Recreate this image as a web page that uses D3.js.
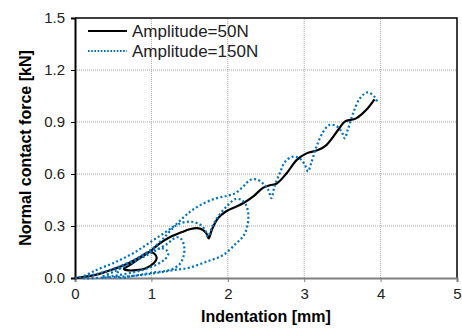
<!DOCTYPE html>
<html>
<head>
<meta charset="utf-8">
<script src="https://cdn.jsdelivr.net/npm/d3@7.9.0/dist/d3.min.js"></script>
<style>
  body { margin: 0; background: #fff; }
  svg { display: block; font-family: 'Liberation Sans', Arial, sans-serif; }
</style>
</head>
<body>
<svg id="chart" width="462" height="329"></svg>
<script>
// Amplitude=50N (solid black)
const amp50X = [0, 0.1, 0.2, 0.34, 0.5, 0.7, 0.85, 0.97, 1.04, 1.07, 1.03, 0.92, 0.8, 0.68, 0.64, 0.7, 0.85, 1.0, 1.11, 1.24, 1.4, 1.5, 1.6, 1.67, 1.72, 1.75, 1.79, 1.87, 1.98, 2.1, 2.2, 2.33, 2.46, 2.55, 2.64, 2.77, 2.9, 3.03, 3.18, 3.29, 3.46, 3.53, 3.68, 3.81, 3.92];
const amp50Y = [0, 0.005, 0.012, 0.027, 0.05, 0.085, 0.12, 0.15, 0.14, 0.115, 0.085, 0.055, 0.045, 0.045, 0.053, 0.07, 0.115, 0.16, 0.2, 0.235, 0.265, 0.281, 0.288, 0.278, 0.258, 0.229, 0.277, 0.344, 0.385, 0.41, 0.431, 0.469, 0.52, 0.535, 0.545, 0.604, 0.68, 0.719, 0.738, 0.767, 0.864, 0.902, 0.921, 0.969, 1.031];

// Amplitude=150N (dotted blue)
const amp150X = [0, 0.3, 0.6, 0.85, 1.05, 1.15, 1.21, 1.22, 1.17, 1.08, 0.9, 0.7, 0.5, 0.35,
  0.5, 0.75, 1.0, 1.2, 1.33, 1.39, 1.43, 1.42, 1.37, 1.25, 1.0, 0.8, 0.55,
  0.6, 0.8, 1.0, 1.15, 1.33, 1.5, 1.63, 1.7, 1.74,
  1.8, 1.9, 2.0, 2.1, 2.18, 2.24, 2.27, 2.25, 2.2, 2.11, 1.94, 1.72, 1.5, 1.285, 1.0, 0.7, 0.4, 0.1,
  0.25, 0.51, 0.77, 1.03, 1.29, 1.5, 1.68, 1.85, 2.0, 2.1, 2.2, 2.29, 2.375, 2.46, 2.53, 2.57, 2.61, 2.68, 2.75, 2.85, 2.94, 3.01, 3.05, 3.09, 3.16, 3.25, 3.33, 3.42, 3.49, 3.53, 3.57, 3.64, 3.73, 3.83, 3.92, 3.96];
const amp150Y = [0, 0.025, 0.07, 0.12, 0.165, 0.17, 0.155, 0.135, 0.105, 0.08, 0.048, 0.027, 0.012, 0.005,
  0.035, 0.09, 0.145, 0.195, 0.235, 0.225, 0.18, 0.125, 0.08, 0.048, 0.03, 0.015, 0.005,
  0.06, 0.11, 0.165, 0.225, 0.305, 0.325, 0.31, 0.28, 0.238,
  0.3, 0.37, 0.42, 0.455, 0.45, 0.42, 0.36, 0.29, 0.24, 0.2, 0.133, 0.094, 0.06, 0.045, 0.025, 0.01, 0.003, 0.002,
  0.04, 0.088, 0.145, 0.22, 0.298, 0.38, 0.43, 0.46, 0.475, 0.49, 0.527, 0.565, 0.569, 0.546, 0.508, 0.46, 0.527, 0.604, 0.671, 0.70, 0.69, 0.652, 0.615, 0.66, 0.757, 0.844, 0.883, 0.877, 0.844, 0.806, 0.854, 0.95, 1.037, 1.071, 1.046, 1.011];

const xTicks = [0, 1, 2, 3, 4, 5];
const yTicks = [0, 0.3, 0.6, 0.9, 1.2, 1.5];
const seriesNames = ['Amplitude=50N', 'Amplitude=150N'];

const margin = { left: 75, right: 5, top: 18, bottom: 51 };
const width = 462, height = 329;

const svg = d3.select('#chart');
const x = d3.scaleLinear().domain([0, 5]).range([margin.left, width - margin.right]);
const y = d3.scaleLinear().domain([0, 1.5]).range([height - margin.bottom, margin.top]);

// gridlines
svg.append('g')
  .selectAll('line.gy')
  .data(yTicks.slice(1, -1))
  .join('line')
  .attr('x1', x(0)).attr('x2', x(5))
  .attr('y1', (d) => y(d)).attr('y2', (d) => y(d))
  .attr('stroke', '#a6a6a6').attr('stroke-width', 1).attr('stroke-dasharray', '1 1');

svg.append('g')
  .selectAll('line.gx')
  .data(xTicks.slice(1, -1))
  .join('line')
  .attr('y1', y(0)).attr('y2', y(1.5))
  .attr('x1', (d) => x(d)).attr('x2', (d) => x(d))
  .attr('stroke', '#a6a6a6').attr('stroke-width', 1).attr('stroke-dasharray', '1 1');

// frame (top, right)
svg.append('path')
  .attr('d', `M${x(0)},${y(1.5)}H${x(5)}V${y(0)}`)
  .attr('fill', 'none').attr('stroke', '#000').attr('stroke-width', 1.5);

// axes
const xAxis = svg.append('g')
  .attr('transform', `translate(0,${y(0)})`)
  .call(d3.axisBottom(x).tickValues(xTicks).tickFormat(d3.format('d')).tickSize(4).tickPadding(6));
xAxis.select('.domain').attr('stroke', '#7f7f7f').attr('stroke-width', 2);
xAxis.selectAll('.tick line').attr('stroke', '#7f7f7f');
xAxis.selectAll('text').attr('font-size', 15).attr('fill', '#222').attr('font-family', "'Liberation Sans', Arial, sans-serif");

const yAxis = svg.append('g')
  .attr('transform', `translate(${x(0)},0)`)
  .call(d3.axisLeft(y).tickValues(yTicks).tickFormat(d3.format('.1f')).tickSize(4).tickPadding(6));
yAxis.select('.domain').attr('stroke', '#000').attr('stroke-width', 2);
yAxis.selectAll('.tick line').attr('stroke', '#000');
yAxis.selectAll('text').attr('font-size', 15).attr('fill', '#222').attr('font-family', "'Liberation Sans', Arial, sans-serif");

// axis titles
svg.append('text')
  .attr('x', (x(0) + x(5)) / 2).attr('y', 322)
  .attr('text-anchor', 'middle').attr('font-size', 16).attr('font-weight', 'bold')
  .text('Indentation [mm]');

svg.append('text')
  .attr('transform', `translate(31,${(y(0) + y(1.5)) / 2}) rotate(-90)`)
  .attr('text-anchor', 'middle').attr('font-size', 16).attr('font-weight', 'bold')
  .text('Normal contact force [kN]');

// series
const line = d3.line()
  .x((d) => x(d[0]))
  .y((d) => y(d[1]))
  .curve(d3.curveCatmullRom.alpha(0.5));

const data50 = amp50X.map((v, i) => [v, amp50Y[i]]);
const data150 = amp150X.map((v, i) => [v, amp150Y[i]]);

svg.append('path')
  .datum(data50)
  .attr('d', line)
  .attr('fill', 'none').attr('stroke', '#000').attr('stroke-width', 2.2);

svg.append('path')
  .datum(data150)
  .attr('d', line)
  .attr('fill', 'none').attr('stroke', '#0070c0').attr('stroke-width', 2.2)
  .attr('stroke-dasharray', '2 2.4');

// legend
const legend = svg.append('g');
const legendY = [31, 51];
legend.selectAll('line')
  .data(seriesNames)
  .join('line')
  .attr('x1', 88).attr('x2', 127)
  .attr('y1', (d, i) => legendY[i]).attr('y2', (d, i) => legendY[i])
  .attr('stroke', (d, i) => (i === 0 ? '#000' : '#0070c0'))
  .attr('stroke-width', (d, i) => (i === 0 ? 2.2 : 2))
  .attr('stroke-dasharray', (d, i) => (i === 0 ? null : '1.6 1.6'));
legend.selectAll('text')
  .data(seriesNames)
  .join('text')
  .attr('x', 132).attr('y', (d, i) => legendY[i] + 6)
  .attr('font-size', 17).attr('fill', '#222')
  .text((d) => d);
</script>
</body>
</html>
